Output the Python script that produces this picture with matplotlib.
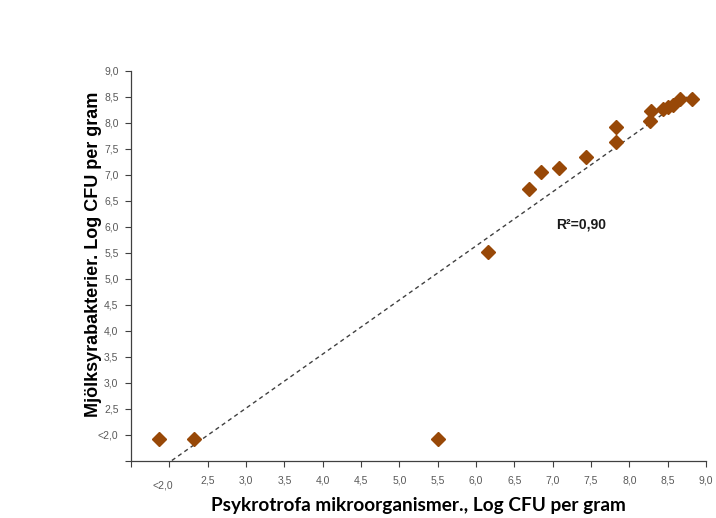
import numpy as np
import matplotlib.pyplot as plt
from matplotlib.transforms import ScaledTranslation

# Psykrotrofa (x) mot mjölksyrabakterier (y), log CFU per gram
psykrotrofa = [1.87, 2.32, 5.50, 6.16, 6.69, 6.85, 7.08, 7.43, 7.82, 7.83,
               8.27, 8.28, 8.44, 8.50, 8.57, 8.66, 8.82]
mjolksyra = [1.92, 1.92, 1.92, 5.51, 6.72, 7.05, 7.13, 7.34, 7.63, 7.92,
             8.03, 8.22, 8.26, 8.31, 8.34, 8.46, 8.46]

# linjär trendlinje (y = k*x + m) och dess förklaringsgrad
trend_k = 1.04
trend_m = -0.61
r2_text = "R²=0,90"

tick_vals = [2.0, 2.5, 3.0, 3.5, 4.0, 4.5, 5.0, 5.5, 6.0, 6.5, 7.0, 7.5, 8.0, 8.5, 9.0]
tick_labels = ["<2,0", "2,5", "3,0", "3,5", "4,0", "4,5", "5,0", "5,5", "6,0",
               "6,5", "7,0", "7,5", "8,0", "8,5", "9,0"]

plt.rcParams['font.family'] = ['Liberation Sans', 'DejaVu Sans']

fig = plt.figure(figsize=(7.16, 5.18), dpi=100)
ax = fig.add_axes([0.183, 0.1106, 0.803, 0.7529])

xs = np.array([min(psykrotrofa), max(psykrotrofa)])
ax.plot(xs, trend_k * xs + trend_m, linestyle=(0, (3, 2.5)), color='#404040',
        linewidth=1.0, zorder=2)

ax.plot(psykrotrofa, mjolksyra, linestyle='none', marker='D', markersize=7.2,
        color='#984807', zorder=3)

ax.set_xlim(1.5, 9.0)
ax.set_ylim(1.5, 9.0)

ax.set_xticks([1.5] + tick_vals)
ax.set_xticklabels([""] + tick_labels)
ax.set_yticks([1.5] + tick_vals)
ax.set_yticklabels([""] + tick_labels)

for spine in ['top', 'right']:
    ax.spines[spine].set_visible(False)
for spine in ['left', 'bottom']:
    ax.spines[spine].set_color('#404040')
    ax.spines[spine].set_linewidth(0.9)

ax.tick_params(axis='both', direction='out', length=4, width=0.8, color='#404040',
               labelsize=7.5, labelcolor='#595959')
ax.tick_params(axis='x', pad=7)
ax.tick_params(axis='y', pad=5)

# "<2,0" på x-axeln sitter lite snett nedanför
xl = ax.get_xticklabels()[1]
xl.set_transform(xl.get_transform() + ScaledTranslation(-0.07, -0.05, fig.dpi_scale_trans))

ax.text(7.05, 6.05, r2_text, fontsize=10, fontweight='bold', color='#1a1a1a',
        ha='left', va='center')

ax.set_xlabel("Psykrotrofa mikroorganismer., Log CFU per gram", fontsize=13.7,
              fontweight='bold', family=['Lato', 'DejaVu Sans'], labelpad=4)
ax.set_ylabel("Mjölksyrabakterier. Log CFU per gram", fontsize=13,
              fontweight='bold')
ax.yaxis.set_label_coords(-0.05, 0.53)

fig.savefig("out.png", dpi=100)
